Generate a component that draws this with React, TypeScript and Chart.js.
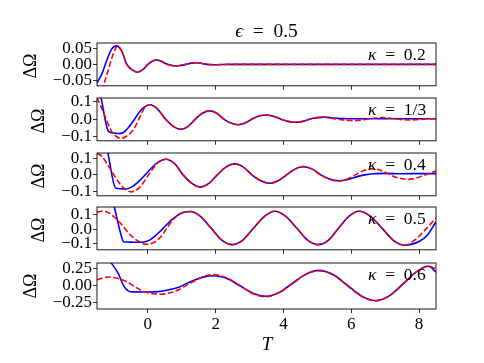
import React, { useEffect, useRef } from "react";
import { Chart, registerables } from "chart.js";

Chart.register(...registerables);

const FONT = "'Liberation Serif', 'DejaVu Serif', serif";
const X_MIN = -1.5;
const X_MAX = 8.5;
const xTicks = [0, 2, 4, 6, 8];

// ---- panel 1 : kappa = 0.2 ----
const t1Blue = [-1.5, -1.36, -1.21, -1.07, -0.92, -0.77, -0.62, -0.46, -0.31, -0.16, 0.0, 0.13, 0.27, 0.41, 0.55, 0.7, 0.84, 0.98, 1.13, 1.28, 1.43, 1.6, 1.75, 2.0, 2.4, 3.0, 8.5];
const v1Blue = [-0.057, -0.03, 0.013, 0.047, 0.057, 0.041, 0.0, -0.017, -0.024, -0.017, 0.0, 0.01, 0.0135, 0.009, 0.001, -0.003, -0.005, -0.003, 0.0, 0.004, 0.005, 0.003, 0.0, -0.001, 0.0, 0.0, 0.0];
const t1Red = [-1.5, -1.31, -1.16, -1.02, -0.89, -0.77, -0.62, -0.46, -0.31, -0.16, 0.0, 0.13, 0.27, 0.41, 0.55, 0.7, 0.84, 0.98, 1.13, 1.28, 1.43, 1.6, 1.75, 2.0, 2.4, 3.0, 8.5];
const v1Red = [-0.13, -0.066, -0.015, 0.033, 0.056, 0.041, 0.0, -0.017, -0.024, -0.017, 0.0, 0.01, 0.0135, 0.009, 0.001, -0.003, -0.005, -0.003, 0.0, 0.004, 0.005, 0.003, 0.0, -0.001, 0.0, 0.0, 0.0];

// ---- panel 2 : kappa = 1/3 ----
const t2Blue = [-1.5, -1.38, -1.16, -1.0, -0.88, -0.72, -0.57, -0.39, -0.28, -0.12, 0.06, 0.28, 0.52, 0.75, 0.97, 1.19, 1.4, 1.61, 1.82, 2.03, 2.24, 2.45, 2.66, 2.87, 3.07, 3.28, 3.49, 3.7, 3.92, 4.14, 4.36, 4.57, 4.78, 5.0, 5.2, 5.45, 5.7, 6.2, 8.5];
const v2Blue = [0.22, 0.12, -0.07, -0.079, -0.082, -0.076, -0.047, 0.0, 0.032, 0.066, 0.081, 0.058, 0.0, -0.041, -0.058, -0.041, 0.0, 0.033, 0.046, 0.033, 0.0, -0.023, -0.032, -0.022, 0.0, 0.017, 0.023, 0.016, 0.0, -0.013, -0.018, -0.013, 0.0, 0.008, 0.011, 0.006, 0.003, 0.002, 0.002];
const t2Red = [-1.5, -1.38, -1.26, -1.07, -0.92, -0.79, -0.63, -0.47, -0.35, -0.23, -0.1, 0.06, 0.28, 0.52, 0.75, 0.97, 1.19, 1.4, 1.61, 1.82, 2.03, 2.24, 2.45, 2.66, 2.87, 3.07, 3.28, 3.49, 3.7, 3.92, 4.14, 4.36, 4.57, 4.78, 5.0, 5.2, 5.45, 5.65, 5.86, 6.07, 6.28, 6.49, 6.7, 6.9, 7.1, 7.33, 7.55, 7.75, 7.95, 8.2, 8.5];
const v2Red = [0.12, 0.07, 0.014, -0.07, -0.1, -0.109, -0.097, -0.07, -0.035, 0.014, 0.062, 0.081, 0.058, 0.0, -0.041, -0.058, -0.041, 0.0, 0.033, 0.046, 0.033, 0.0, -0.023, -0.032, -0.022, 0.0, 0.017, 0.023, 0.016, 0.0, -0.013, -0.018, -0.013, 0.0, 0.008, 0.011, 0.004, -0.003, -0.007, -0.009, -0.006, 0.0, 0.006, 0.009, 0.006, 0.0, -0.004, -0.005, -0.003, 0.0, 0.002];

// ---- panel 3 : kappa = 0.4 ----
const t3Blue = [-1.5, -1.18, -0.95, -0.8, -0.67, -0.5, -0.28, -0.08, 0.07, 0.3, 0.54, 0.8, 1.04, 1.3, 1.55, 1.8, 2.05, 2.3, 2.56, 2.82, 3.07, 3.33, 3.59, 3.84, 4.09, 4.34, 4.59, 4.85, 5.1, 5.36, 5.62, 5.9, 6.15, 6.4, 6.65, 7.0, 7.5, 8.0, 8.5];
const v3Blue = [0.42, 0.133, -0.08, -0.084, -0.086, -0.076, -0.042, 0.0, 0.034, 0.078, 0.095, 0.066, 0.0, -0.052, -0.074, -0.052, 0.0, 0.047, 0.067, 0.047, 0.0, -0.036, -0.051, -0.036, 0.0, 0.035, 0.05, 0.035, 0.0, -0.025, -0.036, -0.028, -0.012, 0.0, 0.007, 0.009, 0.007, 0.008, 0.008];
const t3Red = [-1.5, -1.35, -1.16, -1.0, -0.87, -0.68, -0.49, -0.23, 0.02, 0.3, 0.54, 0.8, 1.04, 1.3, 1.55, 1.8, 2.05, 2.3, 2.56, 2.82, 3.07, 3.33, 3.59, 3.84, 4.09, 4.34, 4.59, 4.85, 5.1, 5.36, 5.62, 5.88, 6.12, 6.38, 6.63, 6.88, 7.15, 7.4, 7.66, 7.92, 8.17, 8.5];
const v3Red = [0.13, 0.112, 0.053, 0.0, -0.042, -0.085, -0.103, -0.073, 0.0, 0.075, 0.095, 0.066, 0.0, -0.052, -0.074, -0.052, 0.0, 0.047, 0.067, 0.047, 0.0, -0.036, -0.051, -0.036, 0.0, 0.035, 0.05, 0.035, 0.0, -0.026, -0.037, -0.025, 0.0, 0.027, 0.038, 0.027, 0.0, -0.019, -0.027, -0.019, 0.0, 0.023];

// ---- panel 4 : kappa = 0.5 ----
const t4Blue = [-1.5, -0.99, -0.74, -0.7, -0.6, -0.45, -0.18, 0.05, 0.25, 0.43, 0.71, 0.98, 1.25, 1.56, 1.87, 2.18, 2.49, 2.8, 3.12, 3.44, 3.75, 4.07, 4.39, 4.71, 5.03, 5.33, 5.63, 5.93, 6.23, 6.57, 6.91, 7.25, 7.59, 8.0, 8.25, 8.5];
const v4Blue = [0.565, 0.15, -0.078, -0.0875, -0.088, -0.089, -0.09, -0.075, -0.04, 0.0, 0.064, 0.108, 0.119, 0.085, 0.005, -0.075, -0.106, -0.075, 0.007, 0.086, 0.121, 0.086, 0.007, -0.075, -0.106, -0.075, 0.007, 0.086, 0.121, 0.086, 0.005, -0.078, -0.11, -0.085, -0.04, 0.05];
const t4Red = [-1.5, -1.31, -1.14, -0.97, -0.77, -0.57, -0.3, -0.03, 0.2, 0.41, 0.6, 0.75, 0.98, 1.25, 1.56, 1.87, 2.18, 2.49, 2.8, 3.12, 3.44, 3.75, 4.07, 4.39, 4.71, 5.03, 5.33, 5.63, 5.93, 6.23, 6.57, 6.91, 7.25, 7.59, 7.9, 8.22, 8.5];
const v4Red = [0.115, 0.123, 0.108, 0.077, 0.03, -0.027, -0.08, -0.104, -0.088, -0.045, 0.02, 0.066, 0.108, 0.119, 0.085, 0.005, -0.075, -0.106, -0.075, 0.007, 0.086, 0.121, 0.086, 0.007, -0.075, -0.106, -0.075, 0.007, 0.086, 0.121, 0.086, 0.005, -0.078, -0.11, -0.07, 0.005, 0.075];

// ---- panel 5 : kappa = 0.6 ----
const t5Blue = [-1.5, -1.08, -0.87, -0.72, -0.57, -0.45, 0.0, 0.3, 0.6, 0.91, 1.15, 1.4, 1.66, 1.94, 2.33, 2.72, 3.1, 3.49, 3.88, 4.27, 4.66, 5.05, 5.47, 5.89, 6.31, 6.73, 7.13, 7.54, 7.94, 8.28, 8.5];
const v5Blue = [0.6, 0.333, 0.176, 0.005, -0.078, -0.088, -0.09, -0.085, -0.06, -0.02, 0.035, 0.088, 0.13, 0.147, 0.105, 0.0, -0.108, -0.152, -0.096, 0.037, 0.17, 0.225, 0.16, 0.005, -0.15, -0.216, -0.143, 0.034, 0.21, 0.285, 0.2];
const t5Red = [-1.5, -1.3, -1.16, -0.9, -0.67, -0.43, -0.15, 0.15, 0.41, 0.66, 0.91, 1.15, 1.4, 1.66, 1.94, 2.33, 2.72, 3.1, 3.49, 3.88, 4.27, 4.66, 5.03, 5.47, 5.89, 6.31, 6.72, 7.13, 7.54, 7.94, 8.26, 8.5];
const v5Red = [0.088, 0.118, 0.127, 0.11, 0.069, 0.0, -0.075, -0.115, -0.123, -0.1, -0.059, 0.01, 0.078, 0.14, 0.162, 0.115, 0.0, -0.115, -0.16, -0.095, 0.035, 0.165, 0.22, 0.16, 0.0, -0.155, -0.22, -0.145, 0.03, 0.21, 0.284, 0.25];

const kappaLabels = ["0.2", "1/3", "0.4", "0.5", "0.6"];
const yTicks1 = [-0.05, 0, 0.05];
const yTicks2 = [-0.1, 0, 0.1];
const yTicks3 = [-0.1, 0, 0.1];
const yTicks4 = [-0.1, 0, 0.1];
const yTicks5 = [-0.25, 0, 0.25];
const yDecimals = [2, 1, 1, 1, 2];
const yMins = [-0.066, -0.123, -0.127, -0.141, -0.338];
const yMaxs = [0.066, 0.119, 0.133, 0.15, 0.332];
const titleText = "0.5";

// ---- layout (pixels) ----
const W = 484;
const H = 363;
const PLOT_LEFT = 97;
const PLOT_RIGHT = 436;
const PANEL_TOPS = [43, 98, 153, 207, 263];
const PANEL_H = 46;
const PAD_TOP = 12;

const seriesBlueT = [t1Blue, t2Blue, t3Blue, t4Blue, t5Blue];
const seriesBlueV = [v1Blue, v2Blue, v3Blue, v4Blue, v5Blue];
const seriesRedT = [t1Red, t2Red, t3Red, t4Red, t5Red];
const seriesRedV = [v1Red, v2Red, v3Red, v4Red, v5Red];
const yTickSets = [yTicks1, yTicks2, yTicks3, yTicks4, yTicks5];

const fmt = (v: number, d: number) => (v < -1e-12 ? "\u2212" : "") + Math.abs(v).toFixed(d);

const boxPlugin = {
  id: "box",
  afterDatasetsDraw(chart: any) {
    const { ctx, chartArea } = chart;
    ctx.save();
    ctx.strokeStyle = "#000";
    ctx.lineWidth = 0.9;
    ctx.strokeRect(chartArea.left, chartArea.top, chartArea.right - chartArea.left, chartArea.bottom - chartArea.top);
    ctx.restore();
  },
};

function Panel({ idx }: { idx: number }) {
  const ref = useRef<HTMLCanvasElement | null>(null);
  const isLast = idx === 4;
  const bottomH = isLast ? 44 : 8;
  const canvasH = PAD_TOP + PANEL_H + bottomH;

  useEffect(() => {
    if (!ref.current) return;
    const toPts = (ts: number[], vs: number[]) => ts.map((t, i) => ({ x: t, y: vs[i] }));
    const gridOpts = {
      display: true,
      drawOnChartArea: false,
      drawTicks: true,
      tickLength: 4,
      color: "#000",
      lineWidth: 0.8,
    };
    const chart = new Chart(ref.current, {
      type: "line",
      data: {
        datasets: [
          {
            data: toPts(seriesRedT[idx], seriesRedV[idx]),
            borderColor: "#ff0000",
            borderWidth: 1.6,
            borderDash: [5.8, 2.5],
            pointRadius: 0,
            cubicInterpolationMode: "monotone",
            clip: 0,
          },
          {
            data: toPts(seriesBlueT[idx], seriesBlueV[idx]),
            borderColor: "#0000ff",
            borderWidth: 1.6,
            pointRadius: 0,
            cubicInterpolationMode: "monotone",
            clip: 0,
          },
        ],
      } as any,
      options: {
        animation: false,
        responsive: false,
        devicePixelRatio: 1,
        events: [],
        layout: { padding: { top: PAD_TOP, right: W - PLOT_RIGHT, left: 0, bottom: 0 } },
        plugins: { legend: { display: false }, tooltip: { enabled: false }, title: { display: false } },
        scales: {
          x: {
            type: "linear",
            min: X_MIN,
            max: X_MAX,
            afterBuildTicks: (s: any) => {
              s.ticks = xTicks.map((v) => ({ value: v }));
            },
            afterFit: (s: any) => {
              s.height = bottomH;
            },
            ticks: {
              display: isLast,
              autoSkip: false,
              maxRotation: 0,
              padding: 1,
              color: "#000",
              font: { family: FONT, size: 17 },
              callback: (v: any) => String(v),
            },
            grid: gridOpts,
            border: { display: false },
          },
          y: {
            type: "linear",
            min: yMins[idx],
            max: yMaxs[idx],
            afterBuildTicks: (s: any) => {
              s.ticks = yTickSets[idx].map((v) => ({ value: v }));
            },
            afterFit: (s: any) => {
              s.width = PLOT_LEFT;
            },
            ticks: {
              autoSkip: false,
              padding: 1,
              color: "#000",
              font: { family: FONT, size: 17 },
              callback: (v: any) => fmt(Number(v), yDecimals[idx]),
            },
            grid: gridOpts,
            border: { display: false },
          },
        },
      } as any,
      plugins: [boxPlugin],
    });
    return () => chart.destroy();
  }, [idx]);

  return (
    <canvas
      ref={ref}
      width={W}
      height={canvasH}
      style={{ position: "absolute", left: 0, top: PANEL_TOPS[idx] - PAD_TOP, width: W, height: canvasH }}
    />
  );
}

export default function App() {
  const ylabelX = [36, 44, 44, 44, 36];
  return (
    <div style={{ position: "absolute", left: 0, top: 0, width: W, height: H, background: "#fff", overflow: "hidden" }}>
      {[0, 1, 2, 3, 4].map((i) => (
        <Panel key={i} idx={i} />
      ))}
      <svg
        width={W}
        height={H}
        style={{ position: "absolute", left: 0, top: 0, pointerEvents: "none" }}
        fontFamily={FONT}
      >
        <text x={(PLOT_LEFT + PLOT_RIGHT) / 2} y={37} textAnchor="middle" fontSize={19.5} fill="#000">
          <tspan fontStyle="italic">{"\u03F5"}</tspan>
          {"\u2002=\u2002" + titleText}
        </text>
        {kappaLabels.map((k, i) => (
          <text key={"k" + i} x={368} y={PANEL_TOPS[i] + 17} fontSize={17.5} fill="#000">
            <tspan fontStyle="italic">{"\u03BA"}</tspan>
            {"\u2002=\u2002" + k}
          </text>
        ))}
        {PANEL_TOPS.map((t, i) => (
          <text
            key={"y" + i}
            transform={`translate(${ylabelX[i]}, ${t + PANEL_H / 2}) rotate(-90)`}
            textAnchor="middle"
            fontSize={18}
            fill="#000"
          >
            {"\u0394\u03A9"}
          </text>
        ))}
        <text x={267} y={350} textAnchor="middle" fontSize={19} fontStyle="italic" fill="#000">
          T
        </text>
      </svg>
    </div>
  );
}
